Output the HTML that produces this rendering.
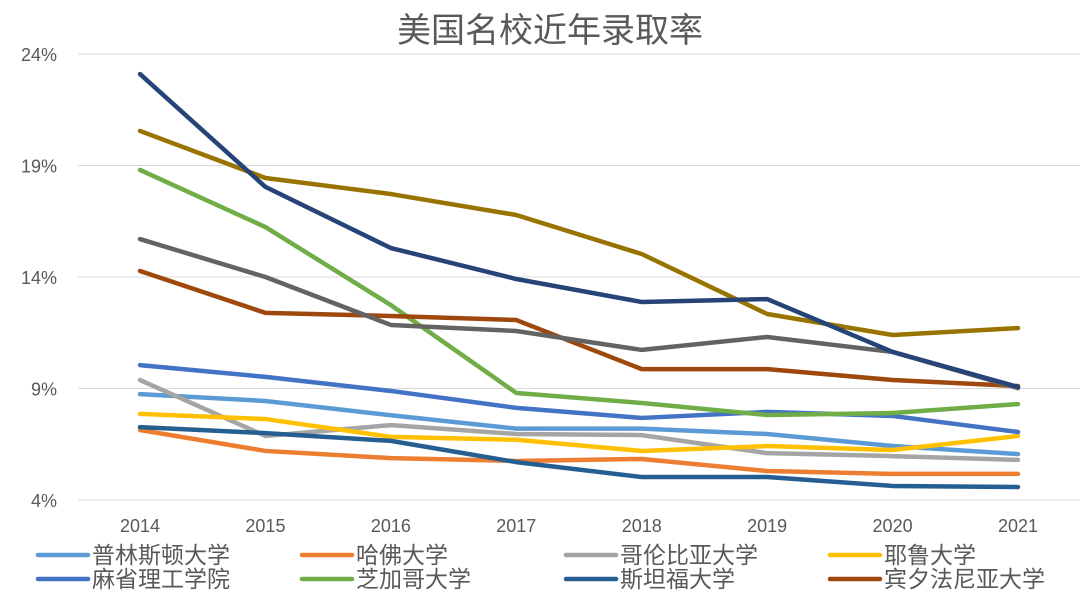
<!DOCTYPE html>
<html><head><meta charset="utf-8"><style>
html,body{margin:0;padding:0;background:#fff;}
svg text{font-family:"Liberation Sans","Noto Sans CJK SC",sans-serif;}
</style></head><body>
<svg id="chart" width="1080" height="591" xmlns="http://www.w3.org/2000/svg">
<rect width="1080" height="591" fill="#fff"/>
<text x="550" y="42" text-anchor="middle" font-size="34" fill="#595959">美国名校近年录取率</text>
<g id="grid"></g><g id="ylab"></g><g id="xlab"></g><g id="lines"></g><g id="legend"></g>
</svg>
<script>
const years=["2014","2015","2016","2017","2018","2019","2020","2021"];
const yTicks=[4,9,14,19,24];
const names=["普林斯顿大学","哈佛大学","哥伦比亚大学","耶鲁大学","麻省理工学院","芝加哥大学","斯坦福大学","宾夕法尼亚大学","杜克大学","达特茅斯学院","加州理工学院"];
const colors=["#5B9BD5","#ED7D31","#A5A5A5","#FFC000","#4472C4","#70AD47","#255E91","#9E480E","#636363","#997300","#264478"];
const princeton=[8.75,8.44,7.8,7.2,7.2,6.96,6.42,6.06];
const harvard=[7.14,6.2,5.88,5.75,5.84,5.3,5.17,5.17];
const columbia=[9.38,6.87,7.36,6.96,6.91,6.1,5.97,5.8];
const yale=[7.86,7.63,6.83,6.7,6.2,6.42,6.24,6.87];
const mit=[10.05,9.52,8.89,8.13,7.68,7.95,7.77,7.05];
const chicago=[18.8,16.24,12.74,8.8,8.35,7.81,7.9,8.3];
const stanford=[7.27,7.0,6.65,5.7,5.03,5.03,4.63,4.58];
const penn=[14.27,12.39,12.25,12.07,9.87,9.87,9.38,9.11];
const duke=[15.7,14.0,11.85,11.58,10.73,11.31,10.64,9.02];
const dartmouth=[20.55,18.44,17.72,16.78,15.03,12.34,11.4,11.71];
const caltech=[23.1,18.04,15.3,13.91,12.88,13.01,10.64,9.07];
const series=[princeton,harvard,columbia,yale,mit,chicago,stanford,penn,duke,dartmouth,caltech];
const NS="http://www.w3.org/2000/svg";
const xS=i=>140+i*125.43;
const yS=v=>500-(v-4)*22.3;
function mk(t,a,p,txt){const e=document.createElementNS(NS,t);for(const k in a)e.setAttribute(k,a[k]);if(txt!==undefined)e.textContent=txt;p.appendChild(e);return e;}
const grid=document.getElementById('grid'),yl=document.getElementById('ylab'),xl=document.getElementById('xlab'),ln=document.getElementById('lines'),lg=document.getElementById('legend');
yTicks.forEach(t=>{
 const g=mk('line',{x1:78,x2:1080,y1:yS(t),y2:yS(t),stroke:'#D9D9D9','stroke-width':1},grid);
 
 
 const l=mk('text',{x:57,y:yS(t)+7,'text-anchor':'end','font-size':18,fill:'#595959'},yl,t+'%');
 
 
});
years.forEach((y,i)=>{
 const l=mk('text',{x:xS(i),y:532,'text-anchor':'middle','font-size':18,fill:'#595959'},xl,y);
 
 
});
series.forEach((s,k)=>{
 const p=mk('polyline',{points:s.map((v,i)=>xS(i)+','+yS(v)).join(' '),fill:'none',stroke:colors[k],'stroke-width':4.5,'stroke-linejoin':'round','stroke-linecap':'round'},ln);
 
 
});
for(let k=0;k<8;k++){
 const c=k%4,r=Math.floor(k/4),x=38+c*264,y=555+r*24;
 const g=mk('g',{},lg);
 
 
 mk('line',{x1:x,x2:x+50,y1:y,y2:y,stroke:colors[k],'stroke-width':4.5,'stroke-linecap':'round'},g);
 mk('text',{x:x+54,y:y+8,'font-size':23,fill:'#595959'},g,names[k]);
}
</script>
</body></html>
